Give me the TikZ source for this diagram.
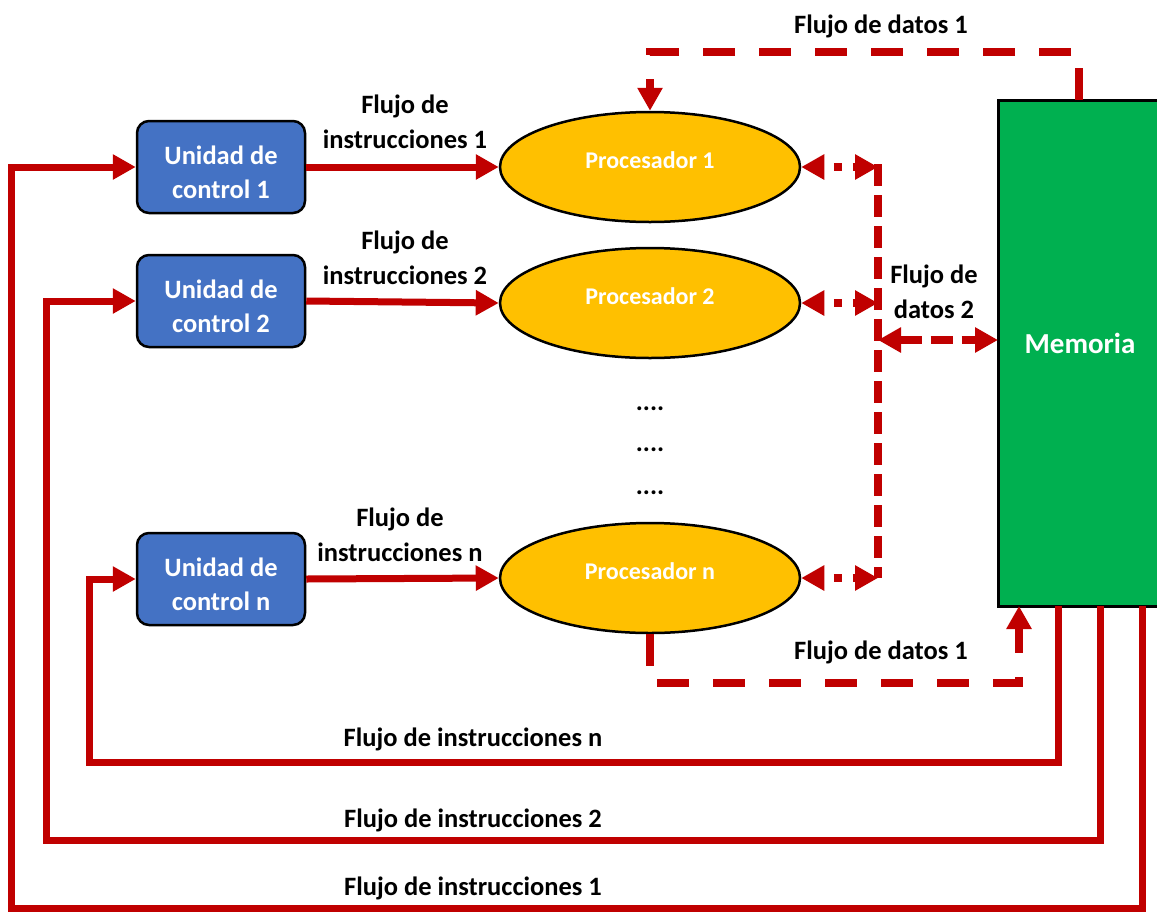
\documentclass[tikz,border=0pt]{standalone}
\usepackage{fontspec}
\setmainfont{Carlito}
\usetikzlibrary{arrows.meta,shapes.geometric}
\definecolor{flowred}{HTML}{C00000}
\definecolor{cublue}{HTML}{4472C4}
\definecolor{procyellow}{HTML}{FFC000}
\definecolor{memgreen}{HTML}{00B050}
% two centred lines, set a little low in their box
\newcommand\cutext[1]{\raisebox{-8pt}[\height][\depth]{\begin{tabular}{@{}c@{}}#1\end{tabular}}}
\begin{document}
\begin{tikzpicture}[x=1pt,y=-1pt,
  cu/.style={rectangle,rounded corners=12pt,draw=black,line width=2.5pt,fill=cublue,
    minimum width=168pt,minimum height=92pt,inner sep=0pt,text=white,
    font=\fontsize{26.5}{34}\selectfont\bfseries},
  proc/.style={ellipse,draw=black,line width=2.5pt,fill=procyellow,
    minimum width=300pt,minimum height=110pt,inner sep=0pt,text=white,
    font=\fontsize{24}{28}\selectfont\bfseries},
  mem/.style={rectangle,draw=black,line width=3pt,fill=memgreen,
    minimum width=164pt,minimum height=506pt,inner sep=0pt,text=white,
    font=\fontsize{29}{34}\selectfont\bfseries},
  lbl/.style={align=center,inner sep=0pt,font=\fontsize{26.5}{34.5}\selectfont\bfseries},
  instr/.style={draw=flowred,line width=7pt,line join=miter},
  data/.style={draw=flowred,line width=8pt,dash pattern=on 32pt off 24pt},
  bus/.style={draw=flowred,line width=8pt,dash pattern=on 22pt off 9pt},
  dotlink/.style={draw=flowred,line width=8pt,dash pattern=on 8pt off 11pt,dash phase=8pt},
  tip/.style={-{Triangle[length=23pt,width=24pt]}},
  tips/.style={{Triangle[length=23pt,width=24pt]}-{Triangle[length=23pt,width=24pt]}}]

\clip (0,0) rectangle (1157,911);
\fill[white] (0,0) rectangle (1157,911);

% control units
\node[cu] (cu1) at (221,167) {\cutext{Unidad de\\control 1}};
\node[cu] (cu2) at (221,301) {\cutext{Unidad de\\control 2}};
\node[cu] (cun) at (221,579) {\cutext{Unidad de\\control n}};

% processors
\node[proc] (p1) at (650,167) {\raisebox{14pt}{Procesador 1}};
\node[proc] (p2) at (650,303) {\raisebox{14pt}{Procesador 2}};
\node[proc] (pn) at (650,578) {\raisebox{14pt}{Procesador n}};

% memory
\node[mem] (mem) at (1080,353) {\raisebox{20pt}{Memoria}};

% ellipsis between processors
\node[lbl] (d1) at (650,409) {....};
\node[lbl] (d2) at (650,450) {....};
\node[lbl] (d3) at (650,493) {....};

% instruction flows: control unit -> processor
\draw[instr,tip] (cu1.east) -- (p1.west);
\draw[instr,tip] (cu2.east) -- (p2.west);
\draw[instr,tip] (cun.east) -- (pn.west);
\node[lbl] (li1) at (405,122) {Flujo de\\instrucciones 1};
\node[lbl] (li2) at (405,258) {Flujo de\\instrucciones 2};
\node[lbl] (lin) at (400,535) {Flujo de\\instrucciones n};

% instruction flows: memory -> control units
\coordinate (m1) at (1142,606);
\coordinate (m2) at (1100,606);
\coordinate (m3) at (1058,606);
\draw[instr,tip] (m1) -- (1142,908) -- (11,908) -- (11,167) -- (cu1.west);
\draw[instr,tip] (m2) -- (1100,840) -- (46,840) -- (46,301) -- (cu2.west);
\draw[instr,tip] (m3) -- (1058,762) -- (89,762) -- (89,579) -- (cun.west);
\node[lbl] (lf1) at (473,888) {Flujo de instrucciones 1};
\node[lbl] (lf2) at (473,820) {Flujo de instrucciones 2};
\node[lbl] (lfn) at (473,739) {Flujo de instrucciones n};

% data flow 1, top: memory -> processor 1
\coordinate (mtop) at (1079,100);
\draw[data,tip] (mtop) -- (1079,52) -- (650,52) -- (p1.north);
\node[lbl] (ld1) at (881,26) {Flujo de datos 1};

% data flow 1, bottom: processor n -> memory
\coordinate (mbot) at (1019,606);
\draw[data,tip] (pn.south) -- (650,683) -- (1019,683) -- (mbot);
\node[lbl] (ld1b) at (881,652) {Flujo de datos 1};

% data flow 2: shared bus
\coordinate (b1) at (878,167);
\coordinate (b2) at (878,303);
\coordinate (bn) at (878,578);
\coordinate (bm) at (878,340);
\coordinate (mleft) at (998,340);
\draw[bus] (878,164) -- (878,578);
\draw[dotlink,tips] (p1.east) -- (b1);
\draw[dotlink,tips] (p2.east) -- (b2);
\draw[dotlink,tips] (pn.east) -- (bn);
\draw[bus,tips] (bm) -- (mleft);
\node[lbl] (ld2) at (934,292) {Flujo de\\datos 2};

\end{tikzpicture}
\end{document}
